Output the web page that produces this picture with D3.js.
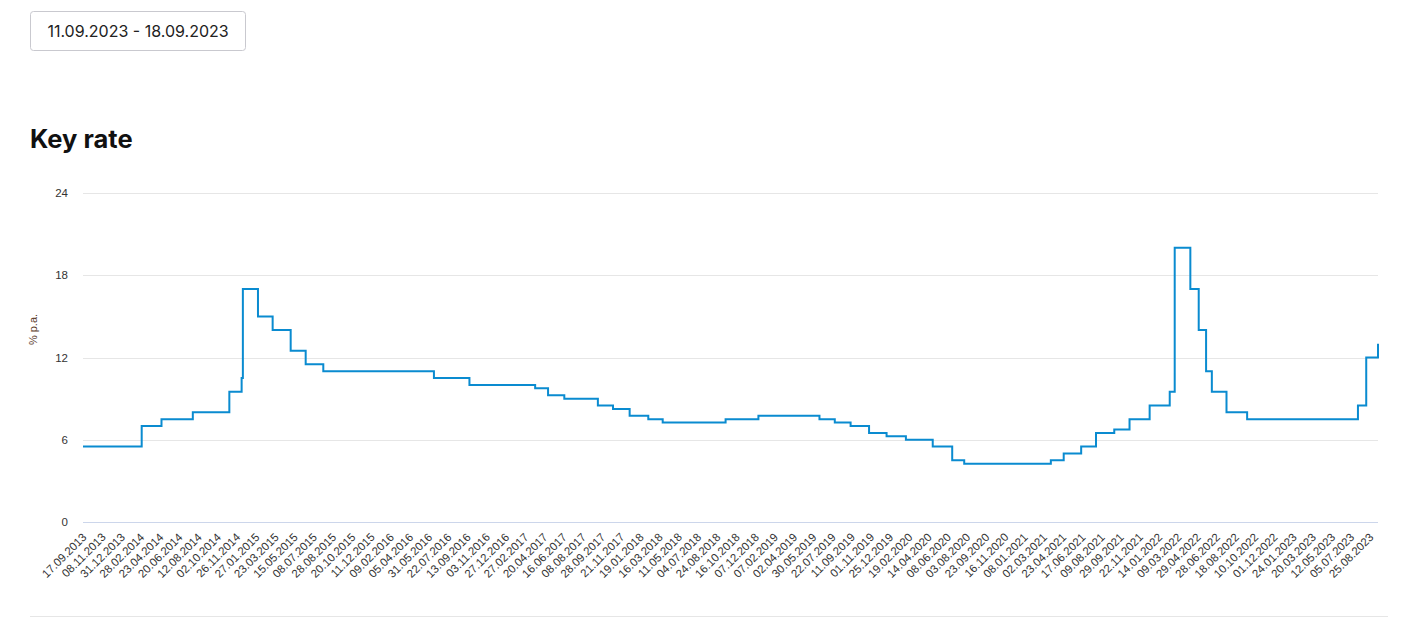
<!DOCTYPE html>
<html>
<head>
<meta charset="utf-8">
<script src="https://cdn.jsdelivr.net/npm/d3@7"></script>
<style>
  body { margin: 0; background: #fff; }
  svg { display: block; }
</style>
</head>
<body>
<div class="chart"></div>
<script>
// key rate changes (date the new rate starts, % p.a.)
var changeDates = ["17.09.2013", "03.03.2014", "28.04.2014", "28.07.2014", "05.11.2014",
  "12.12.2014", "16.12.2014", "02.02.2015", "16.03.2015", "05.05.2015", "16.06.2015",
  "03.08.2015", "14.06.2016", "19.09.2016", "27.03.2017", "02.05.2017", "19.06.2017",
  "18.09.2017", "30.10.2017", "18.12.2017", "12.02.2018", "26.03.2018", "17.09.2018",
  "17.12.2018", "17.06.2019", "29.07.2019", "09.09.2019", "28.10.2019", "16.12.2019",
  "10.02.2020", "27.04.2020", "22.06.2020", "27.07.2020", "22.03.2021", "26.04.2021",
  "15.06.2021", "26.07.2021", "13.09.2021", "25.10.2021", "20.12.2021", "14.02.2022",
  "28.02.2022", "11.04.2022", "04.05.2022", "27.05.2022", "14.06.2022", "25.07.2022",
  "19.09.2022", "24.07.2023", "15.08.2023", "18.09.2023"];
var rates = [5.5, 7, 7.5, 8, 9.5,
  10.5, 17, 15, 14, 12.5, 11.5,
  11, 10.5, 10, 9.75, 9.25, 9,
  8.5, 8.25, 7.75, 7.5, 7.25, 7.5,
  7.75, 7.5, 7.25, 7, 6.5, 6.25,
  6, 5.5, 4.5, 4.25, 4.5, 5,
  5.5, 6.5, 6.75, 7.5, 8.5, 9.5,
  20, 17, 14, 11, 9.5, 8,
  7.5, 8.5, 12, 13];

// x axis labels (category axis, evenly spaced)
var tickLabels = ["17.09.2013", "08.11.2013", "31.12.2013", "28.02.2014", "23.04.2014",
  "20.06.2014", "12.08.2014", "02.10.2014", "26.11.2014", "27.01.2015", "23.03.2015",
  "15.05.2015", "08.07.2015", "28.08.2015", "20.10.2015", "11.12.2015", "09.02.2016",
  "05.04.2016", "31.05.2016", "22.07.2016", "13.09.2016", "03.11.2016", "27.12.2016",
  "27.02.2017", "20.04.2017", "16.06.2017", "08.08.2017", "28.09.2017", "21.11.2017",
  "19.01.2018", "16.03.2018", "11.05.2018", "04.07.2018", "24.08.2018", "16.10.2018",
  "07.12.2018", "07.02.2019", "02.04.2019", "30.05.2019", "22.07.2019", "11.09.2019",
  "01.11.2019", "25.12.2019", "19.02.2020", "14.04.2020", "08.06.2020", "03.08.2020",
  "23.09.2020", "16.11.2020", "08.01.2021", "02.03.2021", "23.04.2021", "17.06.2021",
  "09.08.2021", "29.09.2021", "22.11.2021", "14.01.2022", "09.03.2022", "29.04.2022",
  "28.06.2022", "18.08.2022", "10.10.2022", "01.12.2022", "24.01.2023", "20.03.2023",
  "12.05.2023", "05.07.2023", "25.08.2023"];
var lastDate = "18.09.2023";

var yTicks = [0, 6, 12, 18, 24];

var svgWidth = 1409;
var svgHeight = 620;

var margin = { top: 193, bottom: 98, left: 83, right: 31 };
var width = svgWidth - margin.left - margin.right;
var height = svgHeight - margin.top - margin.bottom;

var parseDate = d3.timeParse("%d.%m.%Y");

var data = changeDates.map(function(d, i) {
  return { date: parseDate(d), rate: rates[i] };
});

var tickDates = tickLabels.map(parseDate);

var svg = d3.select(".chart")
  .append("svg")
  .attr("width", svgWidth)
  .attr("height", svgHeight);

// date range button
svg.append("rect")
  .attr("x", 30.5)
  .attr("y", 11.5)
  .attr("width", 215)
  .attr("height", 39)
  .attr("rx", 3)
  .attr("fill", "#fff")
  .attr("stroke", "#c9c9cf");

svg.append("text")
  .attr("x", 138)
  .attr("y", 37)
  .attr("text-anchor", "middle")
  .style("font-family", "Inter, 'Noto Sans', sans-serif")
  .style("font-size", "16px")
  .attr("fill", "#222")
  .text("11.09.2023 - 18.09.2023");

// title
svg.append("text")
  .attr("x", 30)
  .attr("y", 148)
  .style("font-family", "Inter, 'Noto Sans', sans-serif")
  .style("font-size", "25.5px")
  .style("font-weight", "700")
  .attr("fill", "#111")
  .text("Key rate");

var chartGroup = svg.append("g")
  .attr("transform", `translate(${margin.left}, ${margin.top})`);

// the x axis is a business-day category axis, so the labels sit evenly;
// piecewise time scale keeps the steps in line with them
var tickStep = (width - 8) / (tickDates.length - 1);
var xScale = d3.scaleTime()
  .domain(tickDates.concat([parseDate(lastDate)]))
  .range(tickDates.map((d, i) => i * tickStep).concat([width]));

var yScale = d3.scaleLinear()
  .domain([0, 24])
  .range([height, 0]);

// gridlines
chartGroup.append("g")
  .selectAll("line")
  .data(yTicks.filter(d => d > 0))
  .enter()
  .append("line")
  .attr("x1", 0)
  .attr("x2", width)
  .attr("y1", d => Math.round(yScale(d)) + 0.5)
  .attr("y2", d => Math.round(yScale(d)) + 0.5)
  .attr("stroke", "#e6e6e6");

// y axis labels
var yAxis = d3.axisLeft(yScale).tickValues(yTicks).tickSize(0).tickPadding(15);
var yAxisGroup = chartGroup.append("g").call(yAxis);
yAxisGroup.select(".domain").remove();
yAxisGroup.selectAll("text")
  .style("font-family", "'Liberation Sans', Arial, sans-serif")
  .style("font-size", "11.5px")
  .attr("fill", "#333");

// y label
chartGroup.append("text")
  .attr("transform", "rotate(-90)")
  .attr("x", 0 - (height / 2) + 28)
  .attr("y", -46)
  .style("text-anchor", "middle")
  .style("font-family", "'Liberation Sans', Arial, sans-serif")
  .style("font-size", "11px")
  .attr("fill", "#5a3a2a")
  .text("% p.a.");

// x axis
var xAxis = d3.axisBottom(xScale)
  .tickValues(tickDates)
  .tickSize(0)
  .tickFormat(d3.timeFormat("%d.%m.%Y"));

var xAxisGroup = chartGroup.append("g")
  .attr("transform", `translate(0, ${height})`)
  .call(xAxis);

xAxisGroup.select(".domain")
  .attr("stroke", "#ccd6eb")
  .attr("d", `M0,0.5H${width}`);

xAxisGroup.selectAll("text")
  .attr("y", 0)
  .attr("dy", "0.35em")
  .attr("transform", "translate(1, 13) rotate(-45)")
  .style("text-anchor", "end")
  .style("font-family", "'Liberation Sans', Arial, sans-serif")
  .style("font-size", "11.5px")
  .attr("fill", "#333");

// key rate line
var valueline = d3.line()
  .curve(d3.curveStepAfter)
  .x(d => xScale(d.date))
  .y(d => yScale(d.rate));

chartGroup.append("path")
  .data([data])
  .attr("d", valueline)
  .attr("fill", "none")
  .attr("stroke", "#0a8bd0")
  .attr("stroke-width", 2);

// bottom separator
svg.append("line")
  .attr("x1", 30)
  .attr("x2", 1388)
  .attr("y1", 616.5)
  .attr("y2", 616.5)
  .attr("stroke", "#e6e6e6");
</script>
</body>
</html>
